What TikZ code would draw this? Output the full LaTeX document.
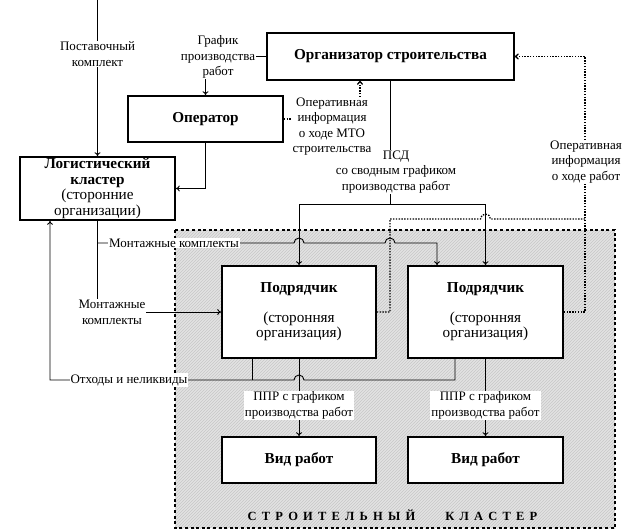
\documentclass[tikz,border=0pt]{standalone}
\usepackage{fontspec}
\setmainfont{Liberation Serif}
\usetikzlibrary{arrows.meta,patterns}
\newcommand\kk{\kern5.2pt}
\begin{document}
\begin{tikzpicture}[x=1pt,y=-1pt,
  box/.style={draw, line width=1.6pt, fill=white, inner sep=0pt, align=center,
    font=\fontsize{15.2}{15.5}\selectfont\bfseries},
  lbl/.style={fill=white, inner sep=1pt, align=center, font=\fontsize{13}{15.5}\selectfont},
  conn/.style={line width=0.9pt},
  arr/.style={conn, -{To[length=4pt,width=6pt]}},
  dotc/.style={line width=1.3pt, dash pattern=on 1.4pt off 1.4pt},
  dotarr/.style={dotc, -{To[length=4pt,width=6pt]}},
  cluster/.style={line width=2.6pt, dash pattern=on 3pt off 2.6pt},
]
\useasboundingbox (0,0) rectangle (628,531);
% cluster background
\fill[black!11] (175,230) rectangle (615,528);
\fill[pattern=north east lines, pattern color=black!22] (175,230) rectangle (615,528);
\draw[cluster] (175,230) rectangle (615,528);
\node[font=\fontsize{12.5}{14}\selectfont\bfseries] (cl) at (392.5,515)
  {С\kk Т\kk Р\kk О\kk И\kk Т\kk Е\kk Л\kk Ь\kk Н\kk Ы\kk Й\hspace{30pt}К\kk Л\kk А\kk С\kk Т\kk Е\kk Р};

% boxes
\node[box, minimum width=247pt, minimum height=47pt] (org) at (390.5,56.5) {Организатор строительства};
\node[box, minimum width=155pt, minimum height=46pt] (op) at (205.5,119) {Оператор};
\node[box, minimum width=155pt, minimum height=63pt] (log) at (97.5,188.5)
  {Логистический\\кластер\\\mdseries(сторонние\\\mdseries организации)};
\node[box, minimum width=154pt, minimum height=92pt] (p1) at (299,312)
  {Подрядчик\\[14pt]\mdseries(сторонняя\\\mdseries организация)};
\node[box, minimum width=155pt, minimum height=92pt] (p2) at (485.5,312)
  {Подрядчик\\[14pt]\mdseries(сторонняя\\\mdseries организация)};
\node[box, minimum width=154pt, minimum height=46pt] (v1) at (299,460) {Вид работ};
\node[box, minimum width=155pt, minimum height=46pt] (v2) at (485.5,460) {Вид работ};

% connectors
\coordinate (top) at (97.5,0);
\draw[arr] (top) -- (log.north);
\draw[arr] (org.west) -| (op.north);
\draw[dotarr] (op.east) -| ([xshift=-30.5pt]org.south);
\draw[arr] (op.south) |- (log.east);
\draw[arr] (log.south) |- (p1.west);
\coordinate (b1) at (97.5,243);
\draw[arr] (b1) -- (294,243) arc[start angle=180,end angle=360,radius=5]
  -- (385,243) arc[start angle=180,end angle=360,radius=5]
  -- (437,243) -- ([xshift=-48.5pt]p2.north);
\coordinate (psd) at (390.5,204);
\draw[conn] (org.south) -- (psd);
\draw[arr] (psd) -| (p1.north);
\draw[arr] (psd) -| (p2.north);
\coordinate (rc) at (585,56.5);
\draw[dotarr] (p2.east) -| (rc) -- (org.east);
\coordinate (rj) at (585,219);
\draw[dotc] (p1.east) -- (390,312) -- (390,219) -- (480.5,219)
  arc[start angle=180,end angle=360,radius=5] -- (rj);
\draw[arr] ([xshift=-30.5pt]p2.south) -- (455,380) -- (304,380)
  arc[start angle=0,end angle=-180,radius=5] -- (50,380) -- ([xshift=-47.5pt]log.south);
\draw[conn] ([xshift=-47pt]p1.south) -- (252,380);
\draw[arr] (p1.south) -- (v1.north);
\draw[arr] (p2.south) -- (v2.north);

% labels
\node[lbl] (l4) at (396,172) {ПСД\\со сводным графиком\\производства работ};
\node[lbl] (l1) at (97.5,54) {Поставочный\\комплект};
\node[lbl] (l2) at (218,57) {График\\производства\\работ};
\node[lbl] (l3) at (332,126.5) {Оперативная\\информация\\о ходе МТО\\строительства};
\node[lbl] (l5) at (586,162) {Оперативная\\информация\\о ходе работ};
\node[lbl] (l6) at (174,243) {Монтажные комплекты};
\node[lbl] (l7) at (112,312.5) {Монтажные\\комплекты};
\node[lbl] (l8) at (129,380) {Отходы и неликвиды};
\node[lbl] (l9) at (299,405.5) {ППР с графиком\\производства работ};
\node[lbl] (l10) at (485.5,405.5) {ППР с графиком\\производства работ};
\end{tikzpicture}
\end{document}
